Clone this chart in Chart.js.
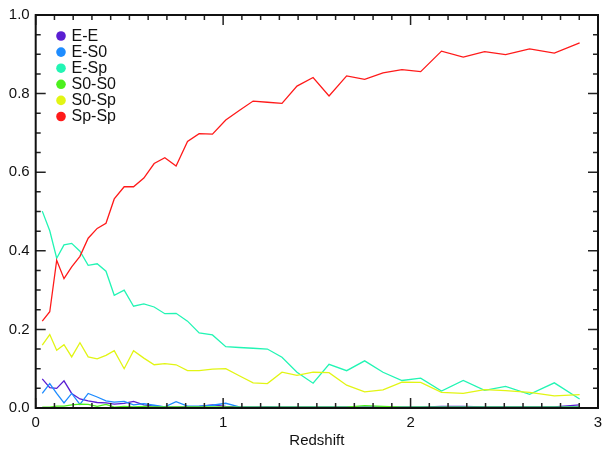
<!DOCTYPE html>
<html>
<head>
<meta charset="utf-8">
<script src="https://cdn.jsdelivr.net/npm/chart.js@4"></script>
<style>
  html, body { margin: 0; padding: 0; background: #fff; }
  #wrap { width: 602px; height: 450px; }
</style>
</head>
<body>
<div id="wrap"><canvas id="myChart" width="602" height="450"></canvas></div>
<script>
// redshift bins
const redshift = [0.035, 0.075, 0.112, 0.151, 0.192, 0.236, 0.280, 0.328, 0.375, 0.419,
  0.472, 0.522, 0.577, 0.632, 0.689, 0.749, 0.810, 0.872, 0.943, 1.014,
  1.086, 1.160, 1.236, 1.314, 1.394, 1.480, 1.565, 1.659, 1.755, 1.853,
  1.954, 2.054, 2.165, 2.281, 2.395, 2.507, 2.635, 2.767, 2.902];

const eE = [0.074, 0.052, 0.050, 0.069, 0.037, 0.023, 0.018, 0.014, 0.013, 0.010,
  0.012, 0.017, 0.008, 0.005, 0.003, 0.002, 0.003, 0.004, 0.008, 0.004,
  0.002, 0.002, 0.003, 0.002, 0.002, 0.002, 0.002, 0.002, 0.002, 0.002,
  0.002, 0.002, 0.004, 0.004, 0.003, 0.003, 0.003, 0.003, 0.008];
const eS0 = [0.037, 0.062, 0.037, 0.013, 0.037, 0.009, 0.037, 0.028, 0.018, 0.015,
  0.017, 0.008, 0.011, 0.007, 0.003, 0.016, 0.005, 0.005, 0.007, 0.012,
  0.003, 0.002, 0.002, 0.002, 0.002, 0.002, 0.002, 0.002, 0.002, 0.002,
  0.002, 0.002, 0.002, 0.002, 0.002, 0.002, 0.002, 0.002, 0.003];
const eSp = [0.501, 0.451, 0.381, 0.415, 0.419, 0.399, 0.363, 0.367, 0.348, 0.287,
  0.300, 0.259, 0.265, 0.257, 0.240, 0.241, 0.221, 0.191, 0.186, 0.156,
  0.154, 0.152, 0.150, 0.129, 0.091, 0.063, 0.111, 0.095, 0.120, 0.091,
  0.070, 0.076, 0.043, 0.070, 0.045, 0.055, 0.035, 0.064, 0.023];
const s0S0 = [0.002, 0.002, 0.005, 0.005, 0.008, 0.010, 0.009, 0.004, 0.009, 0.002,
  0.004, 0.003, 0.004, 0.003, 0.003, 0.003, 0.003, 0.003, 0.003, 0.003,
  0.002, 0.002, 0.002, 0.002, 0.002, 0.002, 0.002, 0.002, 0.006, 0.004,
  0.002, 0.002, 0.002, 0.002, 0.002, 0.002, 0.002, 0.002, 0.002];
const s0Sp = [0.160, 0.187, 0.147, 0.161, 0.130, 0.166, 0.130, 0.125, 0.134, 0.146,
  0.100, 0.146, 0.127, 0.110, 0.113, 0.110, 0.095, 0.095, 0.099, 0.100,
  0.082, 0.064, 0.062, 0.091, 0.083, 0.091, 0.090, 0.058, 0.041, 0.046,
  0.066, 0.065, 0.040, 0.037, 0.047, 0.044, 0.040, 0.031, 0.034];
const spSp = [0.221, 0.245, 0.376, 0.329, 0.359, 0.386, 0.432, 0.457, 0.470, 0.532,
  0.563, 0.563, 0.585, 0.622, 0.637, 0.616, 0.678, 0.698, 0.697, 0.733,
  0.757, 0.781, 0.778, 0.775, 0.819, 0.841, 0.794, 0.845, 0.836, 0.853,
  0.861, 0.856, 0.908, 0.893, 0.907, 0.899, 0.914, 0.903, 0.929];

const seriesNames = ['E-E', 'E-S0', 'E-Sp', 'S0-S0', 'S0-Sp', 'Sp-Sp'];
const seriesColors = ['#5a1ed2', '#1e8cff', '#22f5b4', '#4cf01e', '#e2f514', '#ff1a1a'];
const seriesValues = [eE, eS0, eSp, s0S0, s0Sp, spSp];

const xTickLabels = [0, 1, 2, 3];
const yTickLabels = [0, 0.2, 0.4, 0.6, 0.8, 1.0];

const FONT = '"Liberation Sans", Arial, sans-serif';

// frame, inward ticks and legend, IDL style
const framePlugin = {
  id: 'frame',
  afterDatasetsDraw(chart) {
    const { ctx, chartArea: a, scales: { x, y } } = chart;
    ctx.save();
    ctx.strokeStyle = '#222';
    ctx.lineWidth = 1.5;
    ctx.beginPath();
    for (let i = 0; i <= 30; i++) {
      const v = i / 10;
      const px = x.getPixelForValue(v);
      const len = (i % 10 === 0) ? 10 : 5;
      ctx.moveTo(px, a.bottom); ctx.lineTo(px, a.bottom - len);
      ctx.moveTo(px, a.top); ctx.lineTo(px, a.top + len);
    }
    for (let i = 0; i <= 20; i++) {
      const v = i / 20;
      const py = y.getPixelForValue(v);
      const len = (i % 4 === 0) ? 10 : 5;
      ctx.moveTo(a.left, py); ctx.lineTo(a.left + len, py);
      ctx.moveTo(a.right, py); ctx.lineTo(a.right - len, py);
    }
    ctx.stroke();
    ctx.lineWidth = 2;
    ctx.strokeStyle = '#111';
    ctx.strokeRect(a.left, a.top, a.right - a.left, a.bottom - a.top);

    // legend
    ctx.font = '16px ' + FONT;
    ctx.textBaseline = 'middle';
    ctx.textAlign = 'left';
    seriesNames.forEach((name, i) => {
      const cy = 36 + i * 16.1;
      ctx.fillStyle = seriesColors[i];
      ctx.beginPath();
      ctx.arc(61, cy, 4.8, 0, Math.PI * 2);
      ctx.fill();
      ctx.fillStyle = '#111';
      ctx.fillText(name, 71.5, cy + 0.5);
    });
    ctx.restore();
  }
};

const data = {
  datasets: seriesNames.map((name, i) => ({
    label: name,
    data: redshift.map((z, j) => ({ x: z, y: seriesValues[i][j] })),
    borderColor: seriesColors[i],
    backgroundColor: seriesColors[i],
    borderWidth: 1.3,
    pointRadius: 0,
    fill: false,
    tension: 0
  })).reverse()
};

const config = {
  type: 'line',
  data,
  options: {
    responsive: false,
    animation: false,
    layout: { padding: { top: 9.5, right: 4, left: 0, bottom: 0 } },
    plugins: { legend: { display: false }, tooltip: { enabled: false } },
    scales: {
      x: {
        type: 'linear', min: 0, max: 3,
        afterBuildTicks: s => { s.ticks = xTickLabels.map(v => ({ value: v })); },
        afterFit: s => { s.height = 42; s.paddingRight = 0; s.paddingLeft = 0; },
        grid: { display: false, drawTicks: false },
        border: { display: false },
        ticks: { color: '#111', font: { family: FONT, size: 15 }, padding: 6,
                  callback: v => String(v) },
        title: { display: true, text: 'Redshift', color: '#111',
                 font: { family: FONT, size: 15 }, padding: { top: 0, bottom: 0 } }
      },
      y: {
        type: 'linear', min: 0, max: 1,
        afterBuildTicks: s => { s.ticks = yTickLabels.map(v => ({ value: v })); },
        afterFit: s => { s.width = 35.7; },
        grid: { display: false, drawTicks: false },
        border: { display: false },
        ticks: { color: '#111', font: { family: FONT, size: 15 }, padding: 6,
                 callback: v => v.toFixed(1) }
      }
    }
  },
  plugins: [framePlugin]
};

var myChart = new Chart(document.getElementById('myChart'), config);
</script>
</body>
</html>
